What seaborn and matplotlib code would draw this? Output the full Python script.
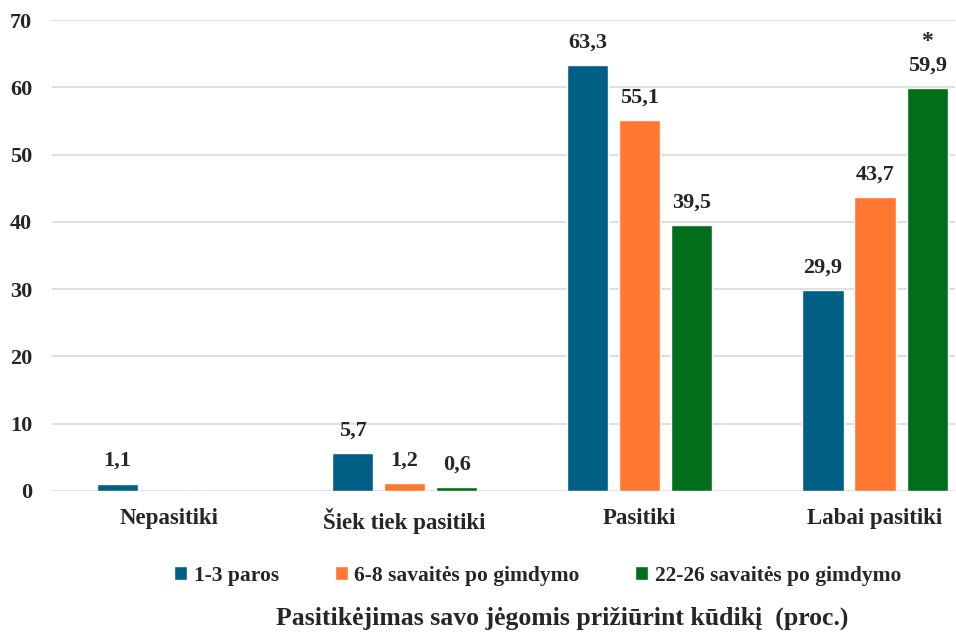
import matplotlib
matplotlib.use('Agg')
import matplotlib.pyplot as plt
import numpy as np
import pandas as pd
import seaborn as sns

categories = ['Nepasitiki', 'Šiek tiek pasitiki', 'Pasitiki', 'Labai pasitiki']
series = ['1-3 paros', '6-8 savaitės po gimdymo', '22-26 savaitės po gimdymo']
vals_1_3 = [1.1, 5.7, 63.3, 29.9]
vals_6_8 = [0.0, 1.2, 55.1, 43.7]
vals_22_26 = [0.0, 0.6, 39.5, 59.9]
colors = ['#005F84', '#FF7730', '#006E1A']
title = 'Pasitikėjimas savo jėgomis prižiūrint kūdikį  (proc.)'


def main():
    sns.set_style('white')
    plt.rcParams['font.family'] = ['Liberation Serif', 'DejaVu Serif']
    plt.rcParams['font.weight'] = 'bold'

    rows = []
    for name, vals in zip(series, [vals_1_3, vals_6_8, vals_22_26]):
        for cat, v in zip(categories, vals):
            rows.append({'cat': cat, 'series': name, 'value': v})
    df = pd.DataFrame(rows)

    fig = plt.figure(figsize=(9.56, 6.34), dpi=100)
    ax = fig.add_axes([0.054, 0.2256, 0.945, 0.7428])
    sns.barplot(data=df, x='cat', y='value', hue='series', order=categories,
                hue_order=series, palette=colors, width=0.664, gap=0.21,
                saturation=1, ax=ax, legend=True)

    ax.set_ylim(0, 70)
    ax.set_xlim(-0.5, 3.34)
    ax.set_yticks(range(0, 71, 10))
    ax.yaxis.grid(True, color='#D9D9D9', linewidth=1.2)
    ax.set_axisbelow(True)
    for s in ax.spines.values():
        s.set_visible(False)
    ax.tick_params(axis='y', length=0, labelsize=16, pad=14)
    ax.tick_params(axis='x', length=0, labelsize=16.5, pad=12)
    for lab in ax.get_xticklabels() + ax.get_yticklabels():
        lab.set_fontweight('bold')
    ax.set_xlabel('')
    ax.set_ylabel('')

    for cont in ax.containers:
        labels = [('%.1f' % v).replace('.', ',') if v > 0 else '' for v in cont.datavalues]
        ax.bar_label(cont, labels=labels, padding=9, fontsize=16, fontweight='bold')

    # asterisk above the last bar
    last = ax.containers[2][3]
    ax.text(last.get_x() + last.get_width() / 2, last.get_height() + 5.4, '*',
            ha='center', va='bottom', fontsize=17, fontweight='bold')

    handles, lbls = ax.get_legend_handles_labels()
    ax.legend(handles, lbls, loc='center', bbox_to_anchor=(0.538, -0.18), ncol=3,
              frameon=False, handlelength=0.6, handleheight=0.6,
              handletextpad=0.3, columnspacing=2.6, prop={'weight': 'bold', 'size': 15.5})

    fig.text(0.588, 0.025, title, ha='center', va='center', fontsize=18.5, fontweight='bold')

    fig.savefig('out.png', dpi=100)
    plt.close(fig)


if __name__ == '__main__':
    main()
